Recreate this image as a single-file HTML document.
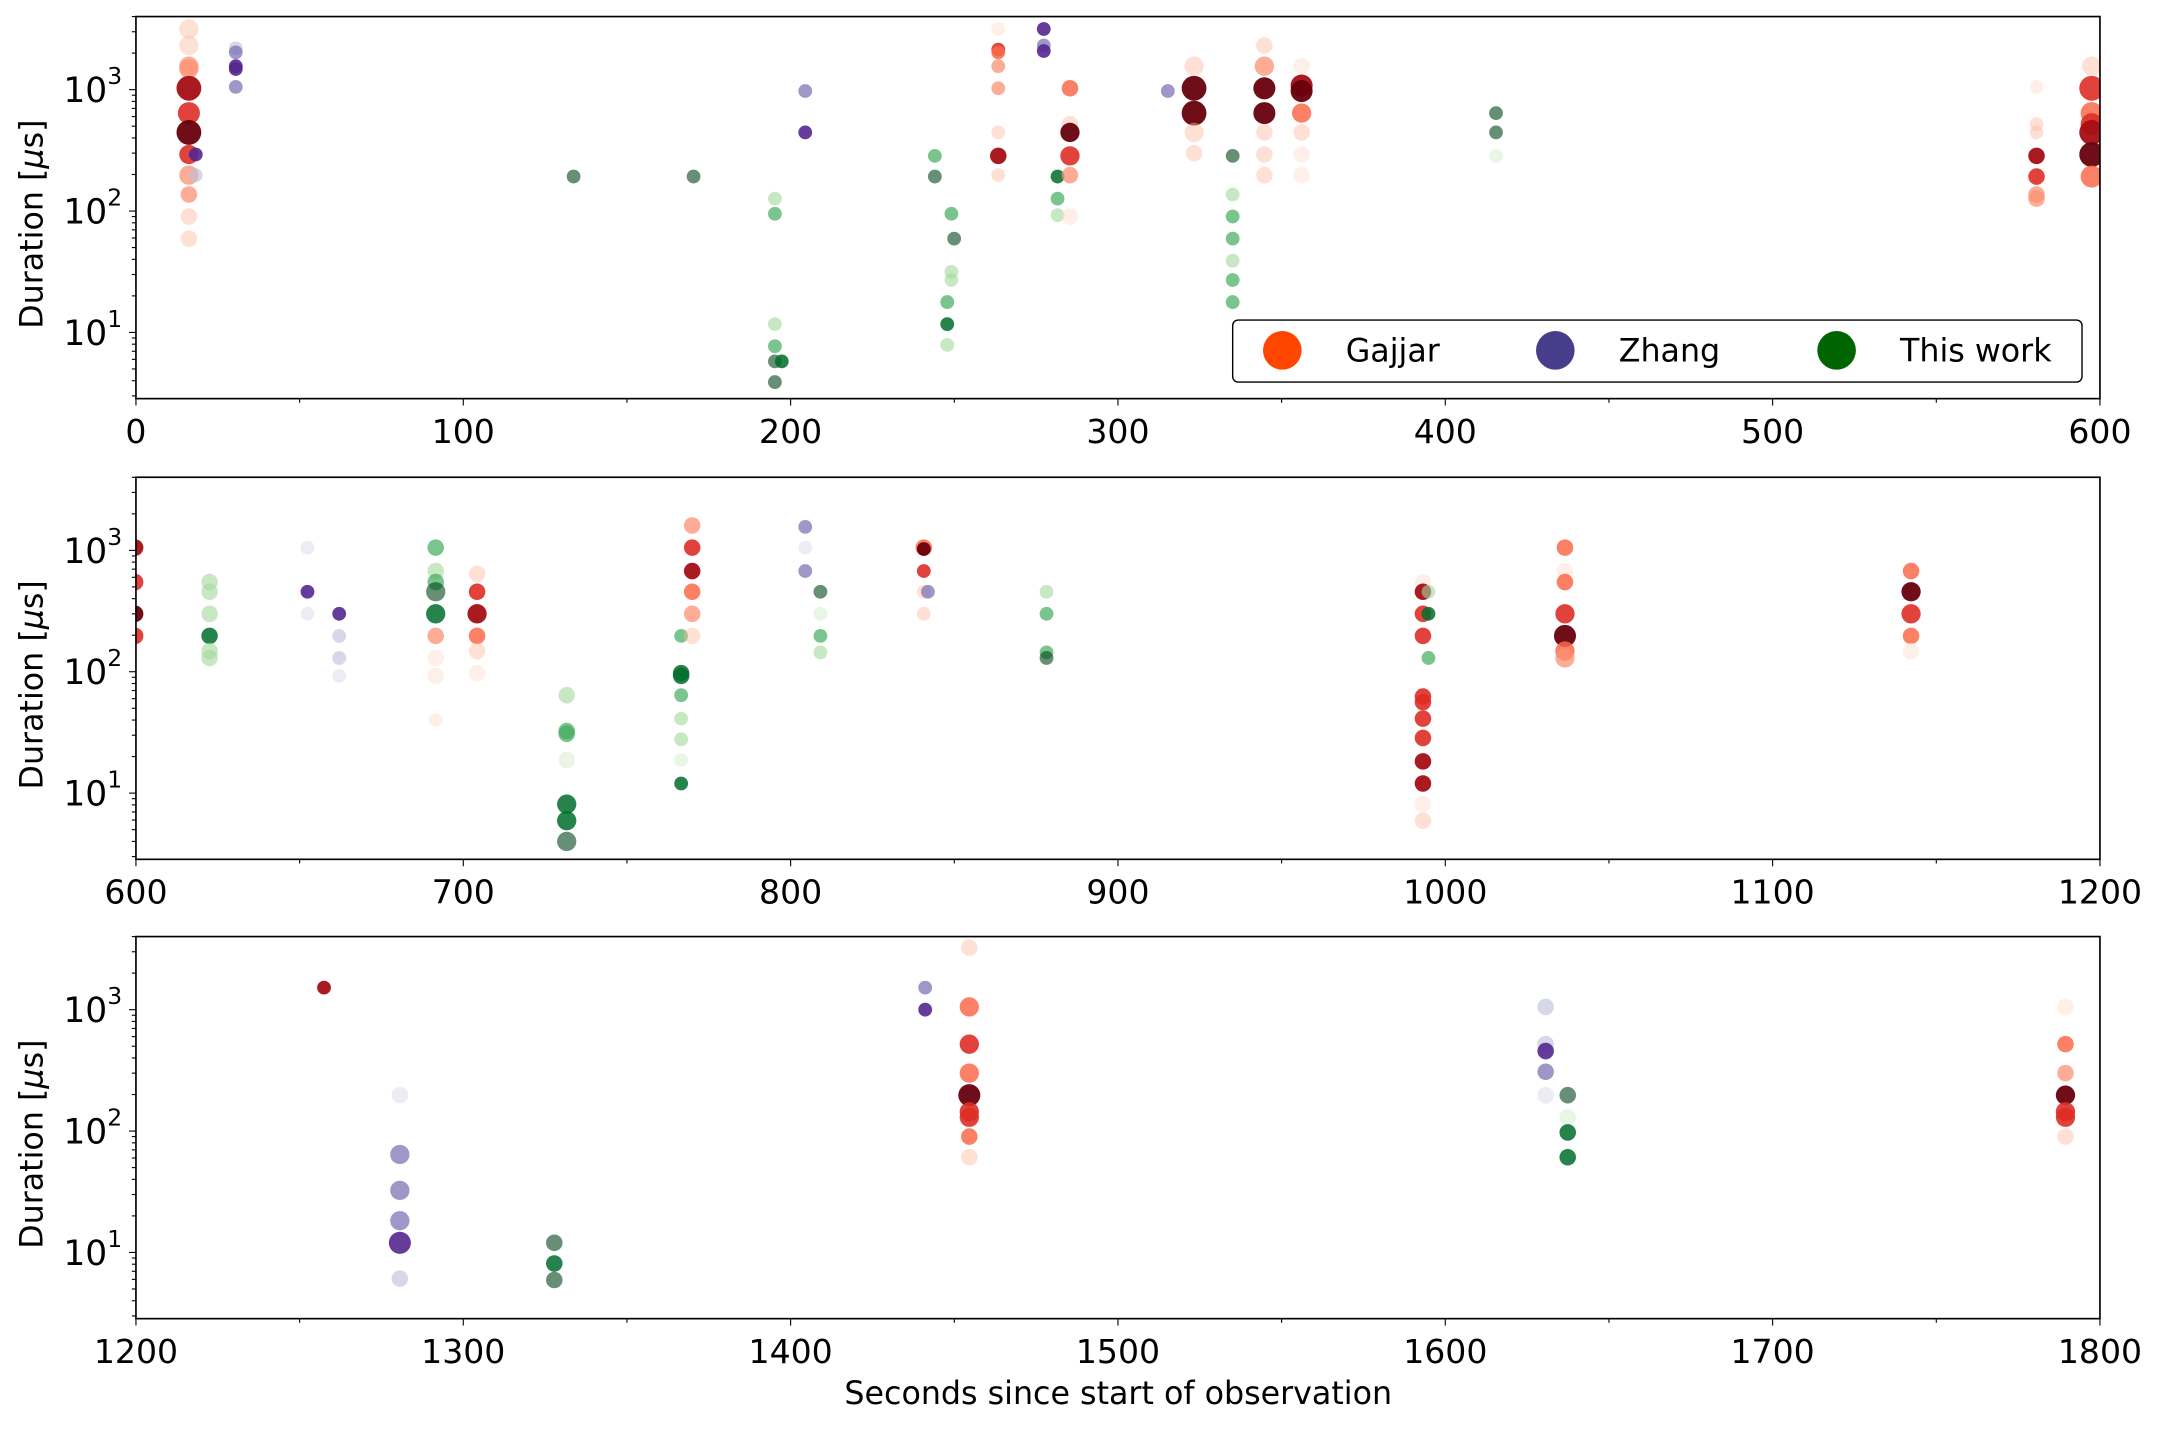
<!DOCTYPE html>
<html><head><meta charset="utf-8"><style>
html,body{margin:0;padding:0;background:#fff;}
svg{display:block;}
text{font-family:"DejaVu Sans","Liberation Sans",sans-serif;fill:#000;}
</style></head><body>
<svg id="s" xmlns="http://www.w3.org/2000/svg" width="2162" height="1429" viewBox="0 0 1568 1036" preserveAspectRatio="none">
<rect width="1568" height="1036" fill="#fff"/>
<g id="g"></g>
</svg>
<script>
const g=document.getElementById('g');
let h='';
const L=98.6,R=1523,H=277,tops=[12,346,679];
const C={
 rl:'rgba(252,187,161,0.45)',rs:'rgba(252,146,114,0.75)',rm:'rgba(251,106,74,0.85)',rr:'rgba(222,45,38,0.9)',rd:'rgba(165,15,21,0.95)',rx:'rgba(103,0,13,0.95)',rv:'rgba(254,224,210,0.5)',
 pl:'rgba(188,189,220,0.6)',pm:'rgba(117,107,177,0.7)',pd:'rgba(84,39,143,0.9)',pv:'rgba(218,218,235,0.5)',
 gl:'rgba(161,217,155,0.6)',gm:'rgba(65,171,93,0.7)',gd:'rgba(0,109,44,0.85)',gx:'rgba(0,68,27,0.6)',gv:'rgba(199,233,192,0.4)'};
const P=[
[0,137,21,'rl',7],[0,137,33,'rl',7],[0,137,48,'rs',7],[0,137,50,'rs',7],[0,137,64,'rd',9],[0,137,82,'rr',8],[0,137,96,'rx',9],[0,137,112,'rr',7],[0,137,127,'rs',7],[0,137,141,'rs',6],[0,137,157,'rl',6],[0,137,173,'rl',6],
[0,142,112,'pd',5],[0,142,127,'pl',5],[0,171,35,'pl',5],[0,171,38,'pm',5],[0,171,48,'pd',5],[0,171,50,'pd',5],[0,171,63,'pm',5],
[0,416,128,'gx',5],[0,503,128,'gx',5],
[0,562,144,'gl',5],[0,562,155,'gm',5],[0,562,235,'gl',5],[0,562,251,'gm',5],[0,562,262,'gx',5],[0,562,277,'gx',5],[0,567,262,'gd',5],
[0,584,66,'pm',5],[0,584,96,'pd',5],
[0,678,113,'gm',5],[0,678,128,'gx',5],[0,687,235,'gd',5],[0,687,219,'gm',5],[0,687,250,'gl',5],[0,690,155,'gm',5],[0,690,197,'gl',5],[0,690,203,'gl',5],[0,692,173,'gx',5],
[0,724,21,'rv',5],[0,724,36,'rr',5],[0,724,38,'rm',5],[0,724,48,'rs',5],[0,724,64,'rs',5],[0,724,96,'rl',5],[0,724,113,'rd',6],[0,724,127,'rl',5],
[0,757,21,'pd',5],[0,757,33,'pm',5],[0,757,37,'pd',5],
[0,767,128,'gd',5],[0,767,144,'gm',5],[0,767,156,'gl',5],
[0,776,64,'rm',6],[0,776,90,'rl',6],[0,776,96,'rx',7],[0,776,113,'rr',7],[0,776,127,'rs',6],[0,776,157,'rv',6],
[0,847,66,'pm',5],
[0,866,48,'rl',7],[0,866,64,'rx',9],[0,866,82,'rx',9],[0,866,96,'rl',7],[0,866,111,'rl',6],
[0,894,113,'gx',5],[0,894,141,'gl',5],[0,894,157,'gm',5],[0,894,173,'gm',5],[0,894,189,'gl',5],[0,894,203,'gm',5],[0,894,219,'gm',5],
[0,917,33,'rl',6],[0,917,48,'rs',7],[0,917,64,'rx',8],[0,917,82,'rx',8],[0,917,96,'rl',6],[0,917,112,'rl',6],[0,917,127,'rl',6],
[0,944,48,'rv',6],[0,944,62,'rd',8],[0,944,66,'rx',8],[0,944,82,'rm',7],[0,944,96,'rl',6],[0,944,112,'rv',6],[0,944,127,'rv',6],
[0,1085,82,'gx',5],[0,1085,96,'gx',5],[0,1085,113,'gv',5],
[0,1477,63,'rv',5],[0,1477,90,'rl',5],[0,1477,96,'rl',5],[0,1477,113,'rd',6],[0,1477,128,'rr',6],[0,1477,141,'rs',6],[0,1477,144,'rs',6],
[0,1517,48,'rl',7],[0,1517,64,'rr',9],[0,1517,82,'rm',8],[0,1517,90,'rr',8],[0,1517,96,'rd',9],[0,1517,112,'rx',9],[0,1517,128,'rm',8],
[1,98,397,'rd',6],[1,98,422,'rr',6],[1,98,445,'rx',6],[1,98,461,'rr',6],
[1,152,422,'gl',6],[1,152,429,'gl',6],[1,152,445,'gl',6],[1,152,461,'gd',6],[1,152,472,'gl',6],[1,152,477,'gl',6],
[1,223,397,'pv',5],[1,223,429,'pd',5],[1,223,445,'pv',5],[1,246,445,'pd',5],[1,246,461,'pl',5],[1,246,477,'pl',5],[1,246,490,'pv',5],
[1,316,397,'gm',6],[1,316,414,'gl',6],[1,316,422,'gm',6],[1,316,429,'gx',7],[1,316,445,'gd',7],[1,316,461,'rs',6],[1,316,477,'rv',6],[1,316,490,'rv',6],[1,316,522,'rv',5],
[1,346,416,'rl',6],[1,346,429,'rr',6],[1,346,445,'rd',7],[1,346,461,'rm',6],[1,346,472,'rl',6],[1,346,488,'rv',6],
[1,411,504,'gl',6],[1,411,530,'gm',6],[1,411,532,'gm',6],[1,411,551,'gv',6],[1,411,583,'gd',7],[1,411,595,'gd',7],[1,411,610,'gx',7],
[1,494,461,'gm',5],[1,494,488,'gd',6],[1,494,490,'gd',6],[1,494,504,'gm',5],[1,494,521,'gl',5],[1,494,536,'gl',5],[1,494,551,'gv',5],[1,494,568,'gd',5],
[1,502,381,'rs',6],[1,502,397,'rr',6],[1,502,414,'rd',6],[1,502,429,'rm',6],[1,502,445,'rs',6],[1,502,461,'rl',6],
[1,584,382,'pm',5],[1,584,414,'pm',5],[1,584,397,'pv',5],
[1,595,429,'gx',5],[1,595,445,'gv',5],[1,595,461,'gm',5],[1,595,473,'gl',5],
[1,670,397,'rm',6],[1,670,398,'rx',5],[1,670,414,'rr',5],[1,670,429,'rl',5],[1,670,445,'rl',5],[1,673,429,'pm',5],
[1,759,429,'gl',5],[1,759,445,'gm',5],[1,759,473,'gm',5],[1,759,477,'gx',5],
[1,1032,422,'rv',6],[1,1032,429,'rd',6],[1,1032,445,'rr',6],[1,1032,461,'rr',6],[1,1032,505,'rr',6],[1,1032,509,'rr',6],[1,1032,521,'rr',6],[1,1032,535,'rr',6],[1,1032,552,'rd',6],[1,1032,568,'rd',6],[1,1032,583,'rv',6],[1,1032,595,'rl',6],
[1,1036,429,'gl',5],[1,1036,445,'gd',5],[1,1036,477,'gm',5],
[1,1135,397,'rm',6],[1,1135,414,'rv',6],[1,1135,422,'rm',6],[1,1135,445,'rr',7],[1,1135,461,'rx',8],[1,1135,472,'rm',7],[1,1135,477,'rs',7],
[1,1386,414,'rm',6],[1,1386,429,'rx',7],[1,1386,445,'rr',7],[1,1386,461,'rm',6],[1,1386,472,'rv',6],
[2,235,716,'rd',5],
[2,290,794,'pv',6],[2,290,837,'pm',7],[2,290,863,'pm',7],[2,290,885,'pm',7],[2,290,901,'pd',8],[2,290,927,'pl',6],
[2,402,901,'gx',6],[2,402,916,'gd',6],[2,402,928,'gx',6],
[2,671,716,'pm',5],[2,671,732,'pd',5],
[2,703,687,'rl',6],[2,703,730,'rm',7],[2,703,757,'rr',7],[2,703,778,'rm',7],[2,703,794,'rx',8],[2,703,806,'rr',7],[2,703,810,'rr',7],[2,703,824,'rm',6],[2,703,839,'rl',6],
[2,1121,730,'pl',6],[2,1121,757,'pl',6],[2,1121,762,'pd',6],[2,1121,777,'pm',6],[2,1121,794,'pv',6],
[2,1137,794,'gx',6],[2,1137,810,'gv',6],[2,1137,821,'gd',6],[2,1137,839,'gd',6],
[2,1498,730,'rv',6],[2,1498,757,'rm',6],[2,1498,778,'rs',6],[2,1498,794,'rx',7],[2,1498,806,'rr',7],[2,1498,810,'rr',7],[2,1498,824,'rl',6]
];
tops.forEach((t,i)=>{
  h+=`<clipPath id="c${i}"><rect x="${L}" y="${t}" width="${R-L}" height="${H}"/></clipPath>`;
});
tops.forEach((t,i)=>{
  h+=`<g clip-path="url(#c${i})">`;
  P.filter(p=>p[0]===i).forEach(p=>{h+=`<circle cx="${p[1]}" cy="${p[2]}" r="${p[4]}" fill="${C[p[3]]}"/>`;});
  h+='</g>';
  h+=`<rect x="${L}" y="${t}" width="${R-L}" height="${H}" fill="none" stroke="#000" stroke-width="1.2"/>`;
  const b=t+H, d3=t+53, dec=88;
  for(let e=0;e<=3;e++){
    for(let m=1;m<10;m++){
      const y=d3+(3-e)*dec-Math.log10(m)*dec;
      if(y<t-0.5||y>b+0.5) continue;
      const len=m===1?5:3;
      h+=`<line x1="${L-len}" y1="${y}" x2="${L}" y2="${y}" stroke="#000" stroke-width="0.8"/>`;
      if(m===1&&e>=1) h+=`<text x="${L-10}" y="${y+9}" font-size="25" text-anchor="end">10<tspan font-size="17" dy="-13">${e}</tspan></text>`;
    }
  }
  const x0=i*600;
  for(let k=0;k<=12;k++){
    const x=L+(R-L)*k/12;
    const len=k%2===0?5:3;
    h+=`<line x1="${x}" y1="${b}" x2="${x}" y2="${b+len}" stroke="#000" stroke-width="0.8"/>`;
    if(k%2===0) h+=`<text x="${x}" y="${b+32}" font-size="24" text-anchor="middle">${x0+k*50}</text>`;
  }
  h+=`<text transform="translate(31,${t+H/2+12}) rotate(-90)" font-size="23" text-anchor="middle">Duration [<tspan font-style="italic">μ</tspan>s]</text>`;
});
h+=`<text x="811" y="1018" font-size="23" text-anchor="middle">Seconds since start of observation</text>`;
h+=`<rect x="894" y="232" width="616" height="45" rx="4" fill="#fff" stroke="#000" stroke-width="1"/>`;
h+=`<circle cx="930" cy="254" r="14" fill="#ff4500"/><text x="976" y="262" font-size="23">Gajjar</text>`;
h+=`<circle cx="1128" cy="254" r="14" fill="#483d8b"/><text x="1174" y="262" font-size="23">Zhang</text>`;
h+=`<circle cx="1332" cy="254" r="14" fill="#006400"/><text x="1378" y="262" font-size="23">This work</text>`;
g.innerHTML=h;
</script>
</body></html>
